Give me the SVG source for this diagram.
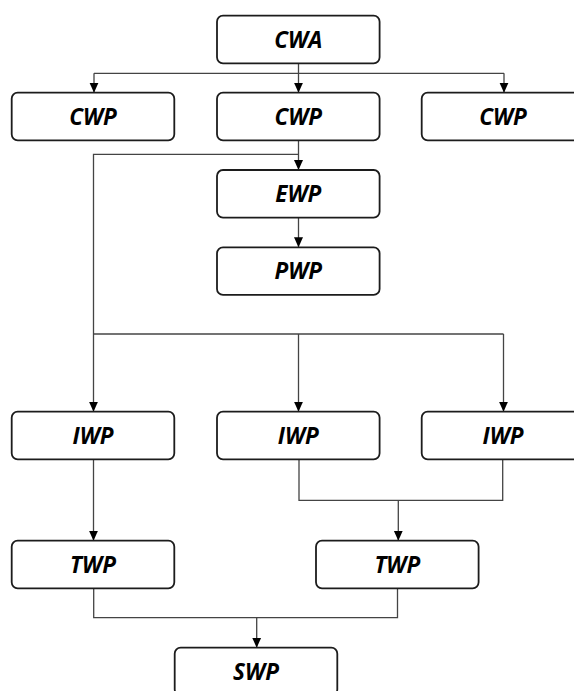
<svg xmlns="http://www.w3.org/2000/svg" width="574" height="691" viewBox="0 0 574 691">
  <style>
    .box { fill: #ffffff; stroke: #1c1c1c; stroke-width: 1.8; }
    .lbl { font-family: "Open Sans", "Noto Sans", "DejaVu Sans", sans-serif; font-weight: bold; font-style: italic; font-size: 22.5px; fill: #000; text-anchor: middle; }
    .ln { fill: none; stroke: #444444; stroke-width: 1.3; }
  </style>
  <defs>
    <marker id="arr" markerUnits="userSpaceOnUse" markerWidth="10" markerHeight="10" viewBox="0 0 10 10" refX="10" refY="5" orient="auto">
      <path d="M0,0.5 L10,5 L0,9.5 Z" fill="#000"/>
    </marker>
  </defs>
  <rect width="574" height="691" fill="#ffffff"/>

  <g id="connectors">
    <path class="ln" d="M298.5 63.3 V73.3 M94 73.3 H504"/>
    <path class="ln" d="M94 73.3 V92.7" marker-end="url(#arr)"/>
    <path class="ln" d="M298.5 73.3 V92.7" marker-end="url(#arr)"/>
    <path class="ln" d="M504 73.3 V92.7" marker-end="url(#arr)"/>
    <path class="ln" d="M298.5 140.3 V170" marker-end="url(#arr)"/>
    <path class="ln" d="M298.5 154.3 H93.5 V411.7" marker-end="url(#arr)"/>
    <path class="ln" d="M298.5 217.7 V247.3" marker-end="url(#arr)"/>
    <path class="ln" d="M93.5 334 H503.5"/>
    <path class="ln" d="M298.5 334 V411.7" marker-end="url(#arr)"/>
    <path class="ln" d="M503.5 334 V411.7" marker-end="url(#arr)"/>
    <path class="ln" d="M93.5 459.3 V540.7" marker-end="url(#arr)"/>
    <path class="ln" d="M299 459.3 V500.3 H502.7 V459.3"/>
    <path class="ln" d="M398.3 500.3 V540.7" marker-end="url(#arr)"/>
    <path class="ln" d="M93.7 588 V617.7 H397.5 V588"/>
    <path class="ln" d="M256.7 617.7 V647.7" marker-end="url(#arr)"/>
  </g>

  <g id="cwa"><rect class="box" x="217" y="15.7" width="162.6" height="47.6" rx="6"/><text class="lbl" x="298.3" y="47.7">CWA</text></g>
  <g id="cwp1"><rect class="box" x="11.7" y="92.7" width="162.6" height="47.6" rx="6"/><text class="lbl" x="93" y="124.7">CWP</text></g>
  <g id="cwp2"><rect class="box" x="217" y="92.7" width="162.6" height="47.6" rx="6"/><text class="lbl" x="298.3" y="124.7">CWP</text></g>
  <g id="cwp3"><rect class="box" x="421.7" y="92.7" width="162.6" height="47.6" rx="6"/><text class="lbl" x="503" y="124.7">CWP</text></g>
  <g id="ewp"><rect class="box" x="217" y="170" width="162.6" height="47.6" rx="6"/><text class="lbl" x="298.3" y="202">EWP</text></g>
  <g id="pwp"><rect class="box" x="217" y="247.3" width="162.6" height="47.6" rx="6"/><text class="lbl" x="298.3" y="279.3">PWP</text></g>
  <g id="iwp1"><rect class="box" x="11.7" y="411.7" width="162.6" height="47.6" rx="6"/><text class="lbl" x="93" y="443.7">IWP</text></g>
  <g id="iwp2"><rect class="box" x="217" y="411.7" width="162.6" height="47.6" rx="6"/><text class="lbl" x="298.3" y="443.7">IWP</text></g>
  <g id="iwp3"><rect class="box" x="421.7" y="411.7" width="162.6" height="47.6" rx="6"/><text class="lbl" x="503" y="443.7">IWP</text></g>
  <g id="twp1"><rect class="box" x="11.7" y="540.7" width="162.6" height="47.6" rx="6"/><text class="lbl" x="93" y="572.7">TWP</text></g>
  <g id="twp2"><rect class="box" x="316" y="540.7" width="162.6" height="47.6" rx="6"/><text class="lbl" x="397.3" y="572.7">TWP</text></g>
  <g id="swp"><rect class="box" x="174.7" y="647.7" width="162.6" height="47.6" rx="6"/><text class="lbl" x="256" y="679.7">SWP</text></g>
</svg>
